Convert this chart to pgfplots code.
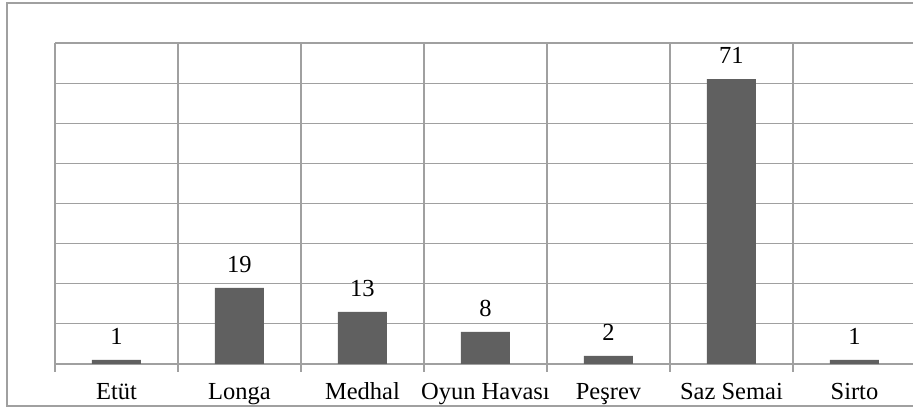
\documentclass[border=0pt]{standalone}
\usepackage{pgfplots}
\pgfplotsset{compat=1.18}
\usepackage{fontspec}
\setmainfont{Liberation Serif}
\definecolor{gridc}{HTML}{A0A0A0}
\definecolor{barc}{HTML}{606060}
\begin{document}
\begin{tikzpicture}[x=1pt,y=1pt]
\useasboundingbox (-55,-45) rectangle (858,364);
\begin{scope}
\clip (-55,-45) rectangle (858,364);
\draw[gridc, line width=1.2pt] (870,361) -- (-48,361) -- (-48,-42) -- (870,-42);
\end{scope}
\begin{axis}[
  at={(0,0)}, anchor=south west, scale only axis,
  width=858pt, height=321pt,
  xmin=-0.5, xmax=6.476, ymin=0, ymax=80,
  axis line style={draw=none},
  ybar, bar width=49pt,
  ytick={0,10,...,80}, yticklabels={},
  ymajorgrids,
  xtick={0,...,6},
  xticklabels={Etüt,Longa,Medhal,Oyun Havası,Peşrev,Saz Semai,Sirto},
  minor xtick={-0.5,0.5,...,6.5},
  xminorgrids,
  major tick length=0pt,
  minor tick length=8pt,
  tick align=outside,
  xtick pos=lower, ytick pos=left,
  minor tick style={gridc, line width=1.2pt},
  major grid style={gridc, line width=1.2pt},
  minor grid style={gridc, line width=1.2pt},
  xticklabel style={font=\fontsize{24.5}{28}\selectfont, anchor=base, yshift=-36pt},
  nodes near coords,
  nodes near coords style={font=\fontsize{24.5}{28}\selectfont, anchor=base, yshift=15.5pt},
  /pgf/number format/assume math mode=true,
  clip=false,
]
\addplot[fill=barc, draw=none] coordinates {(0,1) (1,19) (2,13) (3,8) (4,2) (5,71) (6,1)};
\end{axis}
\end{tikzpicture}
\end{document}
